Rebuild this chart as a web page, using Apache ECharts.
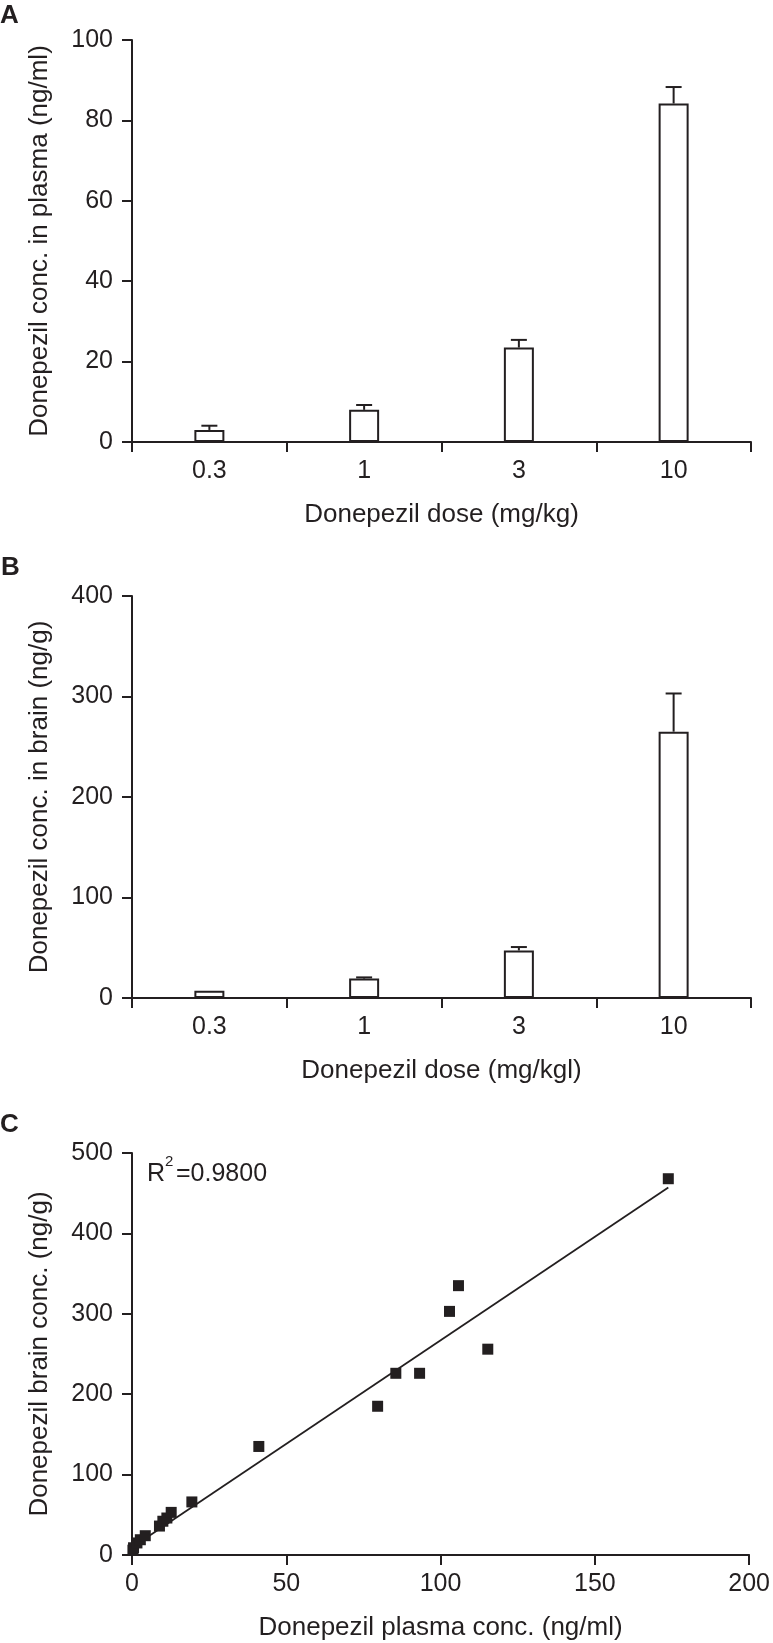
<!DOCTYPE html>
<html>
<head>
<meta charset="utf-8">
<script src="https://cdn.jsdelivr.net/npm/echarts@6/dist/echarts.min.js"></script>
<style>
html,body{margin:0;padding:0;background:#fff;}
#chart{width:773px;height:1643px;}
</style>
</head>
<body>
<div id="chart"></div>
<script>
// ---- data ----
const doseCategories = ['0.3', '1', '3', '10'];
const plasmaMean = [3.0, 8.0, 23.5, 84.2];
const plasmaErr = [1.05, 1.2, 1.9, 4.1];
const brainMean = [7.3, 19.3, 47.3, 265];
const brainErr = [0, 1.2, 3.4, 38];
const scatterPoints = [
  [0.3, 6], [0.5, 9], [1.6, 15], [2.7, 19], [4.3, 24], [8.9, 36], [10, 42],
  [11.3, 46], [12.7, 53], [19.4, 66], [41.1, 135], [79.6, 185], [85.5, 226],
  [93.2, 226], [102.9, 303], [105.8, 335], [115.3, 256], [173.8, 468]
];
const fitLine = [[0.3, 10.2], [173.8, 457]];
const yTicksA = [0, 100, 20];
const yTicksB = [0, 400, 100];
const yTicksC = [0, 500, 100];
const xTicksC = [0, 200, 50];

const INK = '#231f20';
const FONT = '"Liberation Sans", Arial, Helvetica, sans-serif';
const TICK_FS = 25;
const NAME_FS = 26;

function errorRender(params, api) {
  const x = api.value(0), m = api.value(1), e = api.value(2);
  if (!e) return null;
  const p0 = api.coord([x, m]);
  const p1 = api.coord([x, m + e]);
  return {
    type: 'group',
    children: [
      {type: 'line', shape: {x1: p0[0], y1: p0[1], x2: p1[0], y2: p1[1]}, style: {stroke: INK, lineWidth: 2}},
      {type: 'line', shape: {x1: p1[0] - 8, y1: p1[1], x2: p1[0] + 8, y2: p1[1]}, style: {stroke: INK, lineWidth: 2}}
    ]
  };
}

const axisLine = {show: true, onZero: false, lineStyle: {color: INK, width: 2}};
const axisTick = {show: true, length: 10, lineStyle: {color: INK, width: 2}};
const tickLabel = {color: INK, fontSize: TICK_FS, fontFamily: FONT};
const nameStyle = {color: INK, fontSize: NAME_FS, fontFamily: FONT};

function catAxis(idx, name) {
  return {
    type: 'category', gridIndex: idx, data: doseCategories,
    axisLine: axisLine, axisTick: axisTick,
    axisLabel: Object.assign({margin: 17}, tickLabel),
    name: name, nameLocation: 'middle', nameGap: 60, nameTextStyle: nameStyle,
    splitLine: {show: false}
  };
}
function valAxis(idx, t, name, isX) {
  return {
    type: 'value', gridIndex: idx, min: t[0], max: t[1], interval: t[2],
    axisLine: axisLine, axisTick: axisTick,
    axisLabel: Object.assign({margin: isX ? 17 : 19}, tickLabel),
    name: name, nameLocation: 'middle', nameGap: isX ? 60 : 79, nameTextStyle: nameStyle,
    splitLine: {show: false}
  };
}

const chart = echarts.init(document.getElementById('chart'), null, {renderer: 'canvas'});
const option = {
  backgroundColor: '#fff',
  animation: false,
  textStyle: {fontFamily: FONT},
  grid: [
    {left: 132, width: 619, top: 40, height: 402},
    {left: 132, width: 619, top: 596, height: 402},
    {left: 132, width: 619, top: 1153, height: 402}
  ],
  xAxis: [
    catAxis(0, 'Donepezil dose (mg/kg)'),
    catAxis(1, 'Donepezil dose (mg/kgl)'),
    valAxis(2, xTicksC, 'Donepezil plasma conc. (ng/ml)', true)
  ],
  yAxis: [
    valAxis(0, yTicksA, 'Donepezil conc. in plasma (ng/ml)', false),
    valAxis(1, yTicksB, 'Donepezil conc. in brain (ng/g)', false),
    valAxis(2, yTicksC, 'Donepezil brain conc. (ng/g)', false)
  ],
  series: [
    {type: 'bar', xAxisIndex: 0, yAxisIndex: 0, data: plasmaMean, barWidth: 30,
     itemStyle: {color: '#fff', borderColor: INK, borderWidth: 2}, z: 3},
    {type: 'custom', xAxisIndex: 0, yAxisIndex: 0, renderItem: errorRender,
     data: plasmaMean.map((m, i) => [i, m, plasmaErr[i]]), z: 2},
    {type: 'bar', xAxisIndex: 1, yAxisIndex: 1, data: brainMean, barWidth: 30,
     itemStyle: {color: '#fff', borderColor: INK, borderWidth: 2}, z: 3},
    {type: 'custom', xAxisIndex: 1, yAxisIndex: 1, renderItem: errorRender,
     data: brainMean.map((m, i) => [i, m, brainErr[i]]), z: 2},
    {type: 'line', xAxisIndex: 2, yAxisIndex: 2, data: fitLine, symbol: 'none',
     lineStyle: {color: INK, width: 1.8}, z: 2},
    {type: 'scatter', xAxisIndex: 2, yAxisIndex: 2, data: scatterPoints,
     symbol: 'rect', symbolSize: [11, 11], itemStyle: {color: INK, opacity: 1}, z: 3}
  ],
  graphic: [
    {type: 'text', left: 0, top: 3, style: {text: 'A', fontSize: 26, fontWeight: 'bold', fill: INK, fontFamily: FONT}},
    {type: 'text', left: 1, top: 555, style: {text: 'B', fontSize: 26, fontWeight: 'bold', fill: INK, fontFamily: FONT}},
    {type: 'text', left: 0, top: 1112, style: {text: 'C', fontSize: 26, fontWeight: 'bold', fill: INK, fontFamily: FONT}},
    {type: 'text', left: 147, top: 1162, style: {text: 'R', fontSize: 25, fill: INK, fontFamily: FONT}},
    {type: 'text', left: 165, top: 1154, style: {text: '2', fontSize: 15, fill: INK, fontFamily: FONT}},
    {type: 'text', left: 176, top: 1162, style: {text: '=0.9800', fontSize: 25, fill: INK, fontFamily: FONT}}
  ]
};
chart.setOption(option);
</script>
</body>
</html>
